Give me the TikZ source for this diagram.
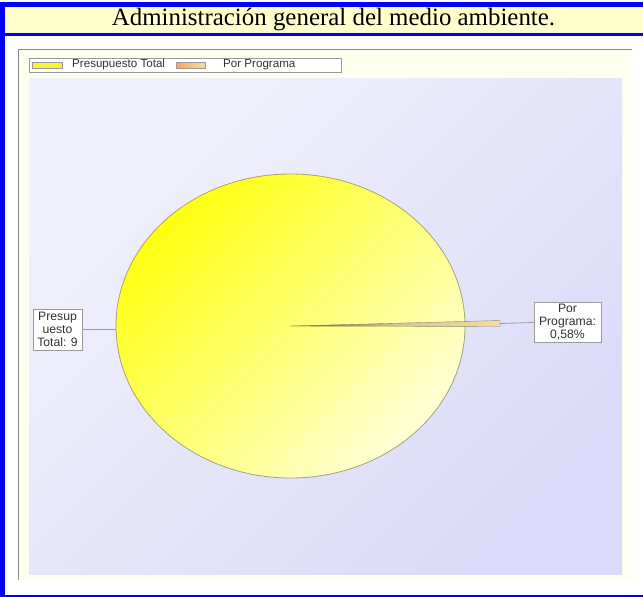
\documentclass[tikz,border=0pt]{standalone}
\usepackage{fontspec}
\setmainfont{Liberation Serif}
\newfontfamily\arialf{Liberation Sans}
\definecolor{bluebar}{HTML}{0000FF}
\definecolor{titlebg}{HTML}{FFFFCC}
\definecolor{creambg}{HTML}{FFFFF0}
\definecolor{lavA}{HTML}{F1F1FC}
\definecolor{lavB}{HTML}{DADAF8}
\definecolor{pieA}{HTML}{FFFF10}
\definecolor{pieB}{HTML}{FFFFD8}
\definecolor{pieedge}{HTML}{A8A274}
\definecolor{sliceA}{HTML}{6E5E28}
\definecolor{sliceB}{HTML}{F4DCA6}
\definecolor{gridgray}{HTML}{8C8C8C}
\definecolor{boxgray}{HTML}{9A9A9A}
\definecolor{txtgray}{HTML}{333333}
\tikzset{
  lbl/.style={draw=boxgray, fill=white, line width=0.8pt, align=center, inner sep=0.5pt,
    text=txtgray, font=\arialf\fontsize{12.2}{13}\selectfont},
  conn/.style={draw=boxgray, line width=0.8pt},
  legtext/.style={anchor=west, inner sep=0pt, text=txtgray, font=\arialf\fontsize{11.6}{12}\selectfont},
}
\begin{document}
\begin{tikzpicture}[x=1pt,y=-1pt]
\useasboundingbox (0,0) rectangle (643,597);
\fill[white] (0,0) rectangle (643,597);
% blue frame
\fill[bluebar] (0,2) rectangle (643,6.5);
\fill[titlebg] (5,6.5) rectangle (643,33);
\fill[bluebar] (0,33) rectangle (643,36);
\fill[bluebar] (0,2) rectangle (5,597);
\fill[bluebar] (0,594.5) rectangle (643,597);
\node[font=\fontsize{24.9}{26}\selectfont, inner sep=0pt, text=black] (title) at (333.5,20) {Administración general del medio ambiente.};
% chart background
\fill[creambg] (18,49) rectangle (632,580);
\shade[top color=lavA, bottom color=lavB, shading angle=45] (29,78) rectangle (622,574);
\draw[gridgray, line width=0.8pt] (18,580) -- (18,49) -- (632,49);
% legend
\draw[boxgray, fill=white, line width=0.6pt] (29,58) rectangle (341,72);
\draw[boxgray, fill=yellow!85, line width=0.6pt] (32,62) rectangle (62,68);
\node[legtext] (leg1) at (72,65) {Presupuesto Total};
\shade[left color=orange!70, right color=sliceB] (176,62) rectangle (205,68);
\draw[boxgray, line width=0.6pt] (176,62) rectangle (205,68);
\node[legtext] (leg2) at (223,65) {Por Programa};
% pie
\shade[top color=pieA, bottom color=pieB, shading angle=45] (290.5,326) ellipse [x radius=174.5, y radius=152];
\draw[pieedge, line width=0.8pt] (290.5,326) ellipse [x radius=174.5, y radius=152];
\coordinate (center) at (290.5,326);
\coordinate (pieL) at (116,329.5);
\shade[left color=sliceA, right color=sliceB, middle color=sliceB!80!sliceA] (center) -- (500,320.5) -- (500,326.5) -- cycle;
\draw[sliceB!60!black, line width=0.4pt] (center) -- (500,320.5) -- (500,326.5) -- cycle;
\coordinate (tip) at (500,323.5);
% labels
\node[lbl, minimum width=49pt, minimum height=41pt] (lab1) at (57.5,329.5) {Presup\\uesto\\Total: 9};
\node[lbl, minimum width=67pt, minimum height=40pt] (lab2) at (567.5,322.5) {Por\\Programa:\\0,58\%};
\draw[conn] (lab1.east) -- (pieL);
\draw[conn] (tip) -- (lab2.west);
\end{tikzpicture}
\end{document}
